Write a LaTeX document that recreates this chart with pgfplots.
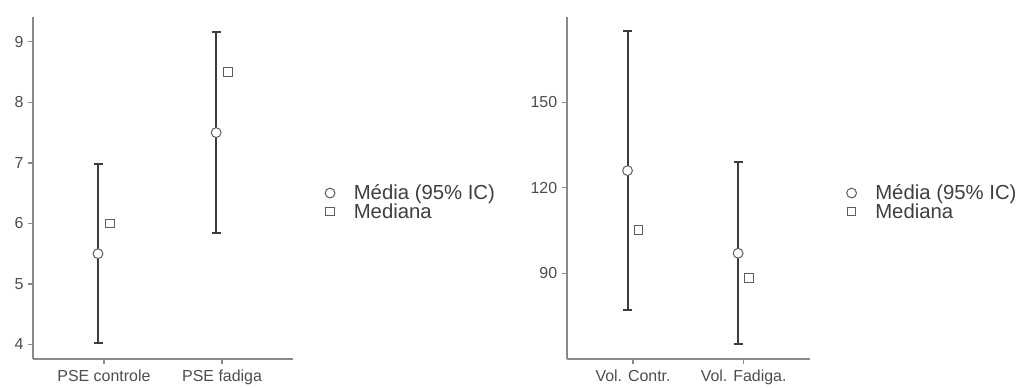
\documentclass[border=0pt]{standalone}
\usepackage{fontspec}
\setmainfont{Liberation Sans}
\usepackage{pgfplots}
\pgfplotsset{compat=1.18}
\definecolor{barc}{HTML}{3C3C3C}
\definecolor{tickc}{HTML}{4D4D4D}
\definecolor{axc}{HTML}{8A8A8A}
\definecolor{mkc}{HTML}{5E5E5E}
\definecolor{legc}{HTML}{3F3F3F}
\pgfplotsset{
  myax/.style={
    scale only axis,
    axis lines=left,
    axis line style={-, color=axc, line width=1.6bp},
    tick style={color=axc, line width=1.3bp},
    major tick length=5bp,
    tick align=outside,
    xtick={1,2},
    xmin=0.4, xmax=2.6,
    /pgf/number format/assume math mode=true,
    tick label style={font=\fontsize{16}{19}\selectfont, color=tickc},
    yticklabel style={xshift=-1bp},
    xticklabel style={yshift=-2bp},
    clip=false,
    legend cell align=left,
    legend style={draw=none, fill=none, anchor=west, inner sep=0pt,
      font=\fontsize{20.4}{20}\selectfont, text=legc,
      row sep=2.4bp, column sep=0pt,
      nodes={inner sep=0pt}},
    legend image code/.code={\draw[#1] plot coordinates {(4.5bp,0bp)}; \path (0bp,0bp) (28bp,0bp);},
  },
  ebar/.style={only marks, mark=none, forget plot,
    error bars/.cd, y dir=both, y explicit,
    error bar style={line width=2bp, color=barc},
    error mark options={rotate=90, mark size=4.5bp, line width=2bp, color=barc}},
  meanst/.style={only marks, mark=*, mark size=4.9bp,
    mark options={fill=white, draw=mkc, line width=1bp}},
  medst/.style={only marks, mark=square, mark size=4.2bp,
    mark options={draw=mkc, fill=white, line width=1bp}},
}
\begin{document}
\begin{tikzpicture}
\useasboundingbox (0,0) rectangle (1017bp,388bp);
\begin{axis}[myax,
  at={(33bp,29bp)}, anchor=south west,
  width=260bp, height=342bp,
  ymin=3.76, ymax=9.41,
  ytick={4,5,6,7,8,9},
  xticklabels={PSE controle, PSE fadiga},
  legend style={at={(1.123,0.458)}},
]
\addplot+[ebar] coordinates {(0.95,5.5) +- (0,1.48) (1.95,7.5) +- (0,1.66)};
\addplot+[meanst] coordinates {(0.95,5.5) (1.95,7.5)};
\addlegendentry{Média (95\% IC)}
\addplot+[medst] coordinates {(1.05,6.0) (2.05,8.5)};
\addlegendentry{Mediana}
\end{axis}
\begin{axis}[myax,
  at={(566.7bp,29bp)}, anchor=south west,
  width=243.3bp, height=342bp,
  ymin=59.9, ymax=179.9,
  ytick={90,120,150},
  xticklabels={Vol. Contr., Vol. Fadiga.},
  legend style={at={(1.150,0.458)}},
]
\addplot+[ebar] coordinates {(0.95,126) +- (0,48.85) (1.95,97) +- (0,31.9)};
\addplot+[meanst] coordinates {(0.95,126) (1.95,97)};
\addlegendentry{Média (95\% IC)}
\addplot+[medst] coordinates {(1.05,105.2) (2.05,88.3)};
\addlegendentry{Mediana}
\end{axis}
\end{tikzpicture}
\end{document}
